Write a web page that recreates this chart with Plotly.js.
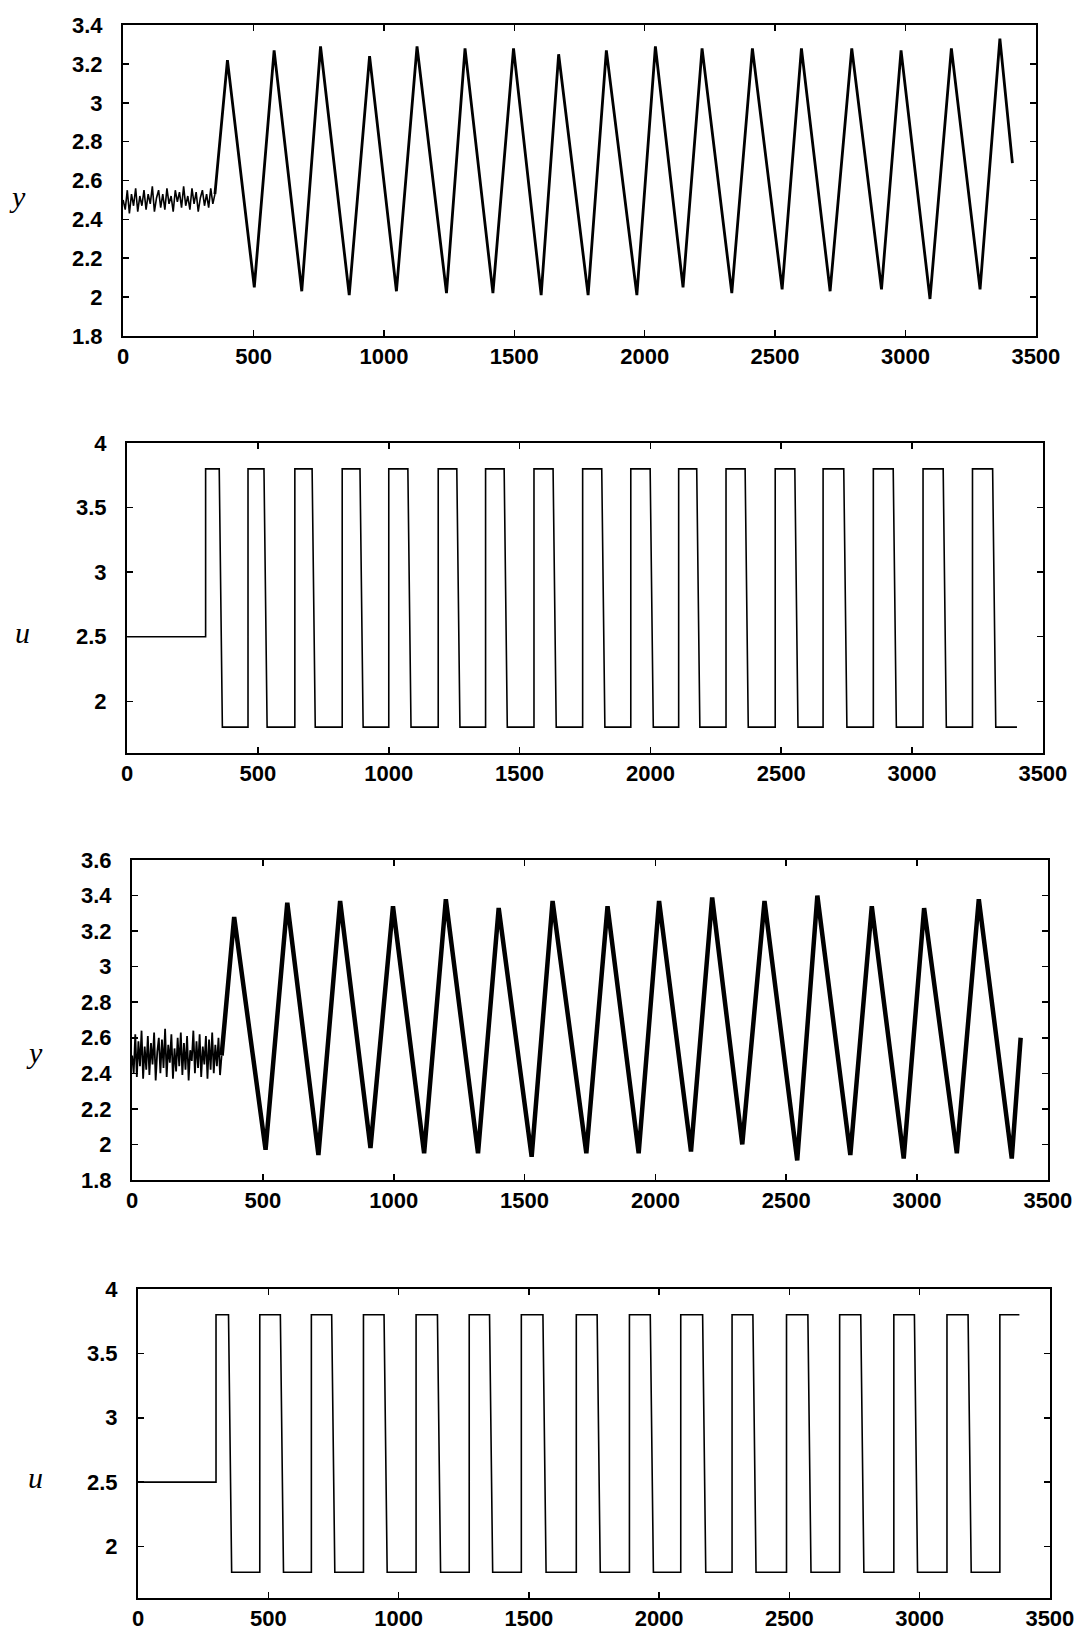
<!DOCTYPE html>
<html><head><meta charset="utf-8">
<script src="https://cdn.plot.ly/plotly-3.0.1.min.js"></script>
<style>html,body{margin:0;padding:0;background:#fff}#chart{width:1080px;height:1633px}</style>
</head><body><div id="chart"></div>
<script>
// ---------- Panel 1: output y (experiment 1) ----------
const y1NoiseT = [0,8,16,24,32,40,48,56,64,72,80,88,96,104,112,120,128,136,144,152,160,168,176,184,192,200,208,216,224,232,240,248,256,264,272,280,288,296,304,312,320,328,336,344,352];
const y1NoiseV = [2.50,2.45,2.55,2.43,2.53,2.47,2.56,2.44,2.52,2.47,2.55,2.45,2.53,2.48,2.57,2.44,2.51,2.55,2.46,2.53,2.45,2.56,2.48,2.52,2.44,2.55,2.49,2.54,2.46,2.57,2.47,2.52,2.45,2.56,2.48,2.54,2.44,2.51,2.55,2.47,2.53,2.46,2.56,2.48,2.53];
const y1PeakT = [400,579,757,945,1127,1311,1497,1670,1853,2041,2220,2413,2601,2794,2983,3176,3362];
const y1PeakV = [3.22,3.27,3.29,3.24,3.29,3.28,3.28,3.25,3.27,3.29,3.28,3.28,3.28,3.28,3.27,3.28,3.33];
const y1TroughT = [503,685,867,1048,1240,1418,1603,1783,1970,2147,2334,2527,2711,2908,3094,3286];
const y1TroughV = [2.05,2.03,2.01,2.03,2.02,2.02,2.01,2.01,2.01,2.05,2.02,2.04,2.03,2.04,1.99,2.04];
const y1EndT = 3410, y1EndV = 2.69;

// ---------- Panel 2: input u (experiment 1) ----------
const u1Rise = [300,462,641,822,1000,1189,1370,1555,1741,1925,2108,2289,2477,2660,2852,3042,3231];
const u1Fall = [352,523,707,890,1073,1260,1441,1628,1814,1999,2177,2362,2552,2739,2928,3119,3308];
const u1Base = 2.5, u1High = 3.8, u1Low = 1.8, u1EndT = 3401;

// ---------- Panel 3: output y (experiment 2) ----------
const y2NoiseT = [0,6,12,18,24,30,36,42,48,54,60,66,72,78,84,90,96,102,108,114,120,126,132,138,144,150,156,162,168,174,180,186,192,198,204,210,216,222,228,234,240,246,252,258,264,270,276,282,288,294,300,306,312,318,324,330,336,342];
const y2NoiseV = [2.50,2.40,2.62,2.38,2.58,2.44,2.64,2.37,2.55,2.42,2.61,2.39,2.57,2.45,2.63,2.36,2.52,2.60,2.40,2.59,2.43,2.65,2.38,2.56,2.46,2.62,2.37,2.54,2.41,2.60,2.44,2.63,2.39,2.57,2.42,2.61,2.36,2.53,2.47,2.64,2.40,2.58,2.43,2.62,2.38,2.55,2.45,2.61,2.37,2.59,2.42,2.63,2.40,2.56,2.44,2.60,2.39,2.50];
const y2PeakT = [390,593,795,997,1199,1401,1607,1817,2014,2217,2417,2619,2827,3027,3236];
const y2PeakV = [3.28,3.36,3.37,3.34,3.38,3.33,3.37,3.34,3.37,3.39,3.37,3.40,3.34,3.33,3.38];
const y2TroughT = [510,712,911,1116,1322,1527,1736,1936,2136,2332,2542,2745,2949,3152,3362];
const y2TroughV = [1.97,1.94,1.98,1.95,1.95,1.93,1.95,1.95,1.96,2.00,1.91,1.94,1.92,1.95,1.92];
const y2EndT = 3396, y2EndV = 2.60;

// ---------- Panel 4: input u (experiment 2) ----------
const u2Rise = [299,467,665,865,1067,1271,1471,1682,1886,2083,2280,2489,2693,2901,3105,3308];
const u2Fall = [347,546,743,944,1149,1349,1554,1762,1966,2167,2360,2571,2774,2980,3186];
const u2Base = 2.5, u2High = 3.8, u2Low = 1.8, u2EndT = 3383;

// edge lag of the falling transitions as drawn (time units)
const fallLag = 12;

function triangleSeries(peakT, peakV, troughT, troughV, startT, startV, endT, endV){
  const x=[startT], y=[startV];
  for(let i=0;i<peakT.length;i++){
    x.push(peakT[i]); y.push(peakV[i]);
    if(i<troughT.length){ x.push(troughT[i]); y.push(troughV[i]); }
  }
  x.push(endT); y.push(endV);
  return {x,y};
}
function squareSeries(rise, fall, base, high, low, endT){
  const x=[0], y=[base]; let lvl=base;
  for(let i=0;i<rise.length;i++){
    x.push(rise[i], rise[i]); y.push(lvl, high); lvl=high;
    if(i<fall.length){ x.push(fall[i], fall[i]+fallLag); y.push(high, low); lvl=low; }
  }
  x.push(endT); y.push(lvl);
  return {x,y};
}

const W=1080, H=1633;
const boxes = [
  {l:123,r:1036,t:25,b:336, yr:[1.8,3.4], dy:0.2, title:'y', tx:17, ty:196},
  {l:127,r:1043,t:443,b:753, yr:[1.6,4.0], dy:0.5, title:'u', tx:22, ty:632},
  {l:132,r:1048,t:860,b:1180, yr:[1.8,3.6], dy:0.2, title:'y', tx:34, ty:1052},
  {l:138,r:1050,t:1289,b:1598, yr:[1.6,4.0], dy:0.5, title:'u', tx:35, ty:1477}
];

const tri1 = triangleSeries(y1PeakT,y1PeakV,y1TroughT,y1TroughV, y1NoiseT[y1NoiseT.length-1], y1NoiseV[y1NoiseV.length-1], y1EndT, y1EndV);
const tri2 = triangleSeries(y2PeakT,y2PeakV,y2TroughT,y2TroughV, y2NoiseT[y2NoiseT.length-1], y2NoiseV[y2NoiseV.length-1], y2EndT, y2EndV);
const sq1 = squareSeries(u1Rise,u1Fall,u1Base,u1High,u1Low,u1EndT);
const sq2 = squareSeries(u2Rise,u2Fall,u2Base,u2High,u2Low,u2EndT);

const ln = (w)=>({color:'#000', width:w});
const traces = [
  {x:y1NoiseT, y:y1NoiseV, xaxis:'x', yaxis:'y', mode:'lines', line:ln(1.6)},
  {x:tri1.x, y:tri1.y, xaxis:'x', yaxis:'y', mode:'lines', line:ln(2.8)},
  {x:sq1.x, y:sq1.y, xaxis:'x2', yaxis:'y2', mode:'lines', line:ln(1.6)},
  {x:y2NoiseT, y:y2NoiseV, xaxis:'x3', yaxis:'y3', mode:'lines', line:ln(1.8)},
  {x:tri2.x, y:tri2.y, xaxis:'x3', yaxis:'y3', mode:'lines', line:ln(4.5)},
  {x:sq2.x, y:sq2.y, xaxis:'x4', yaxis:'y4', mode:'lines', line:ln(1.6)}
];

const tickFont = {family:'Liberation Sans, Arial, sans-serif', size:22, color:'#000', weight:'bold'};
const layout = {
  width:W, height:H, margin:{l:0,r:0,t:0,b:0}, showlegend:false,
  paper_bgcolor:'#fff', plot_bgcolor:'#fff', annotations:[]
};
boxes.forEach((b,i)=>{
  const n = i===0 ? '' : String(i+1);
  layout['xaxis'+n] = {
    domain:[b.l/W, b.r/W], anchor:'y'+n, range:[-0.5,3500.5], tick0:0, dtick:500,
    ticks:'inside', ticklen:6, tickwidth:1.5, tickcolor:'#000',
    showline:true, linewidth:2, linecolor:'#000', mirror:'ticks',
    showgrid:false, zeroline:false, tickfont:tickFont, ticklabelstandoff:0, fixedrange:true
  };
  layout['yaxis'+n] = {
    domain:[1-b.b/H, 1-b.t/H], anchor:'x'+n, range:[b.yr[0]-0.0005, b.yr[1]+0.0005], tick0:0, dtick:b.dy,
    ticks:'inside', ticklen:6, tickwidth:1.5, tickcolor:'#000',
    showline:true, linewidth:2, linecolor:'#000', mirror:'ticks',
    showgrid:false, zeroline:false, tickfont:tickFont, ticklabelstandoff:14, fixedrange:true
  };
  layout.annotations.push({
    xref:'paper', yref:'paper', x:b.tx/W, y:1-b.ty/H, xanchor:'center', yanchor:'middle',
    text:b.title, showarrow:false,
    font:{family:'Liberation Serif, Times New Roman, serif', size:30, color:'#000', style:'italic'}
  });
});

Plotly.newPlot('chart', traces, layout, {staticPlot:true, displayModeBar:false});
</script>
</body></html>
